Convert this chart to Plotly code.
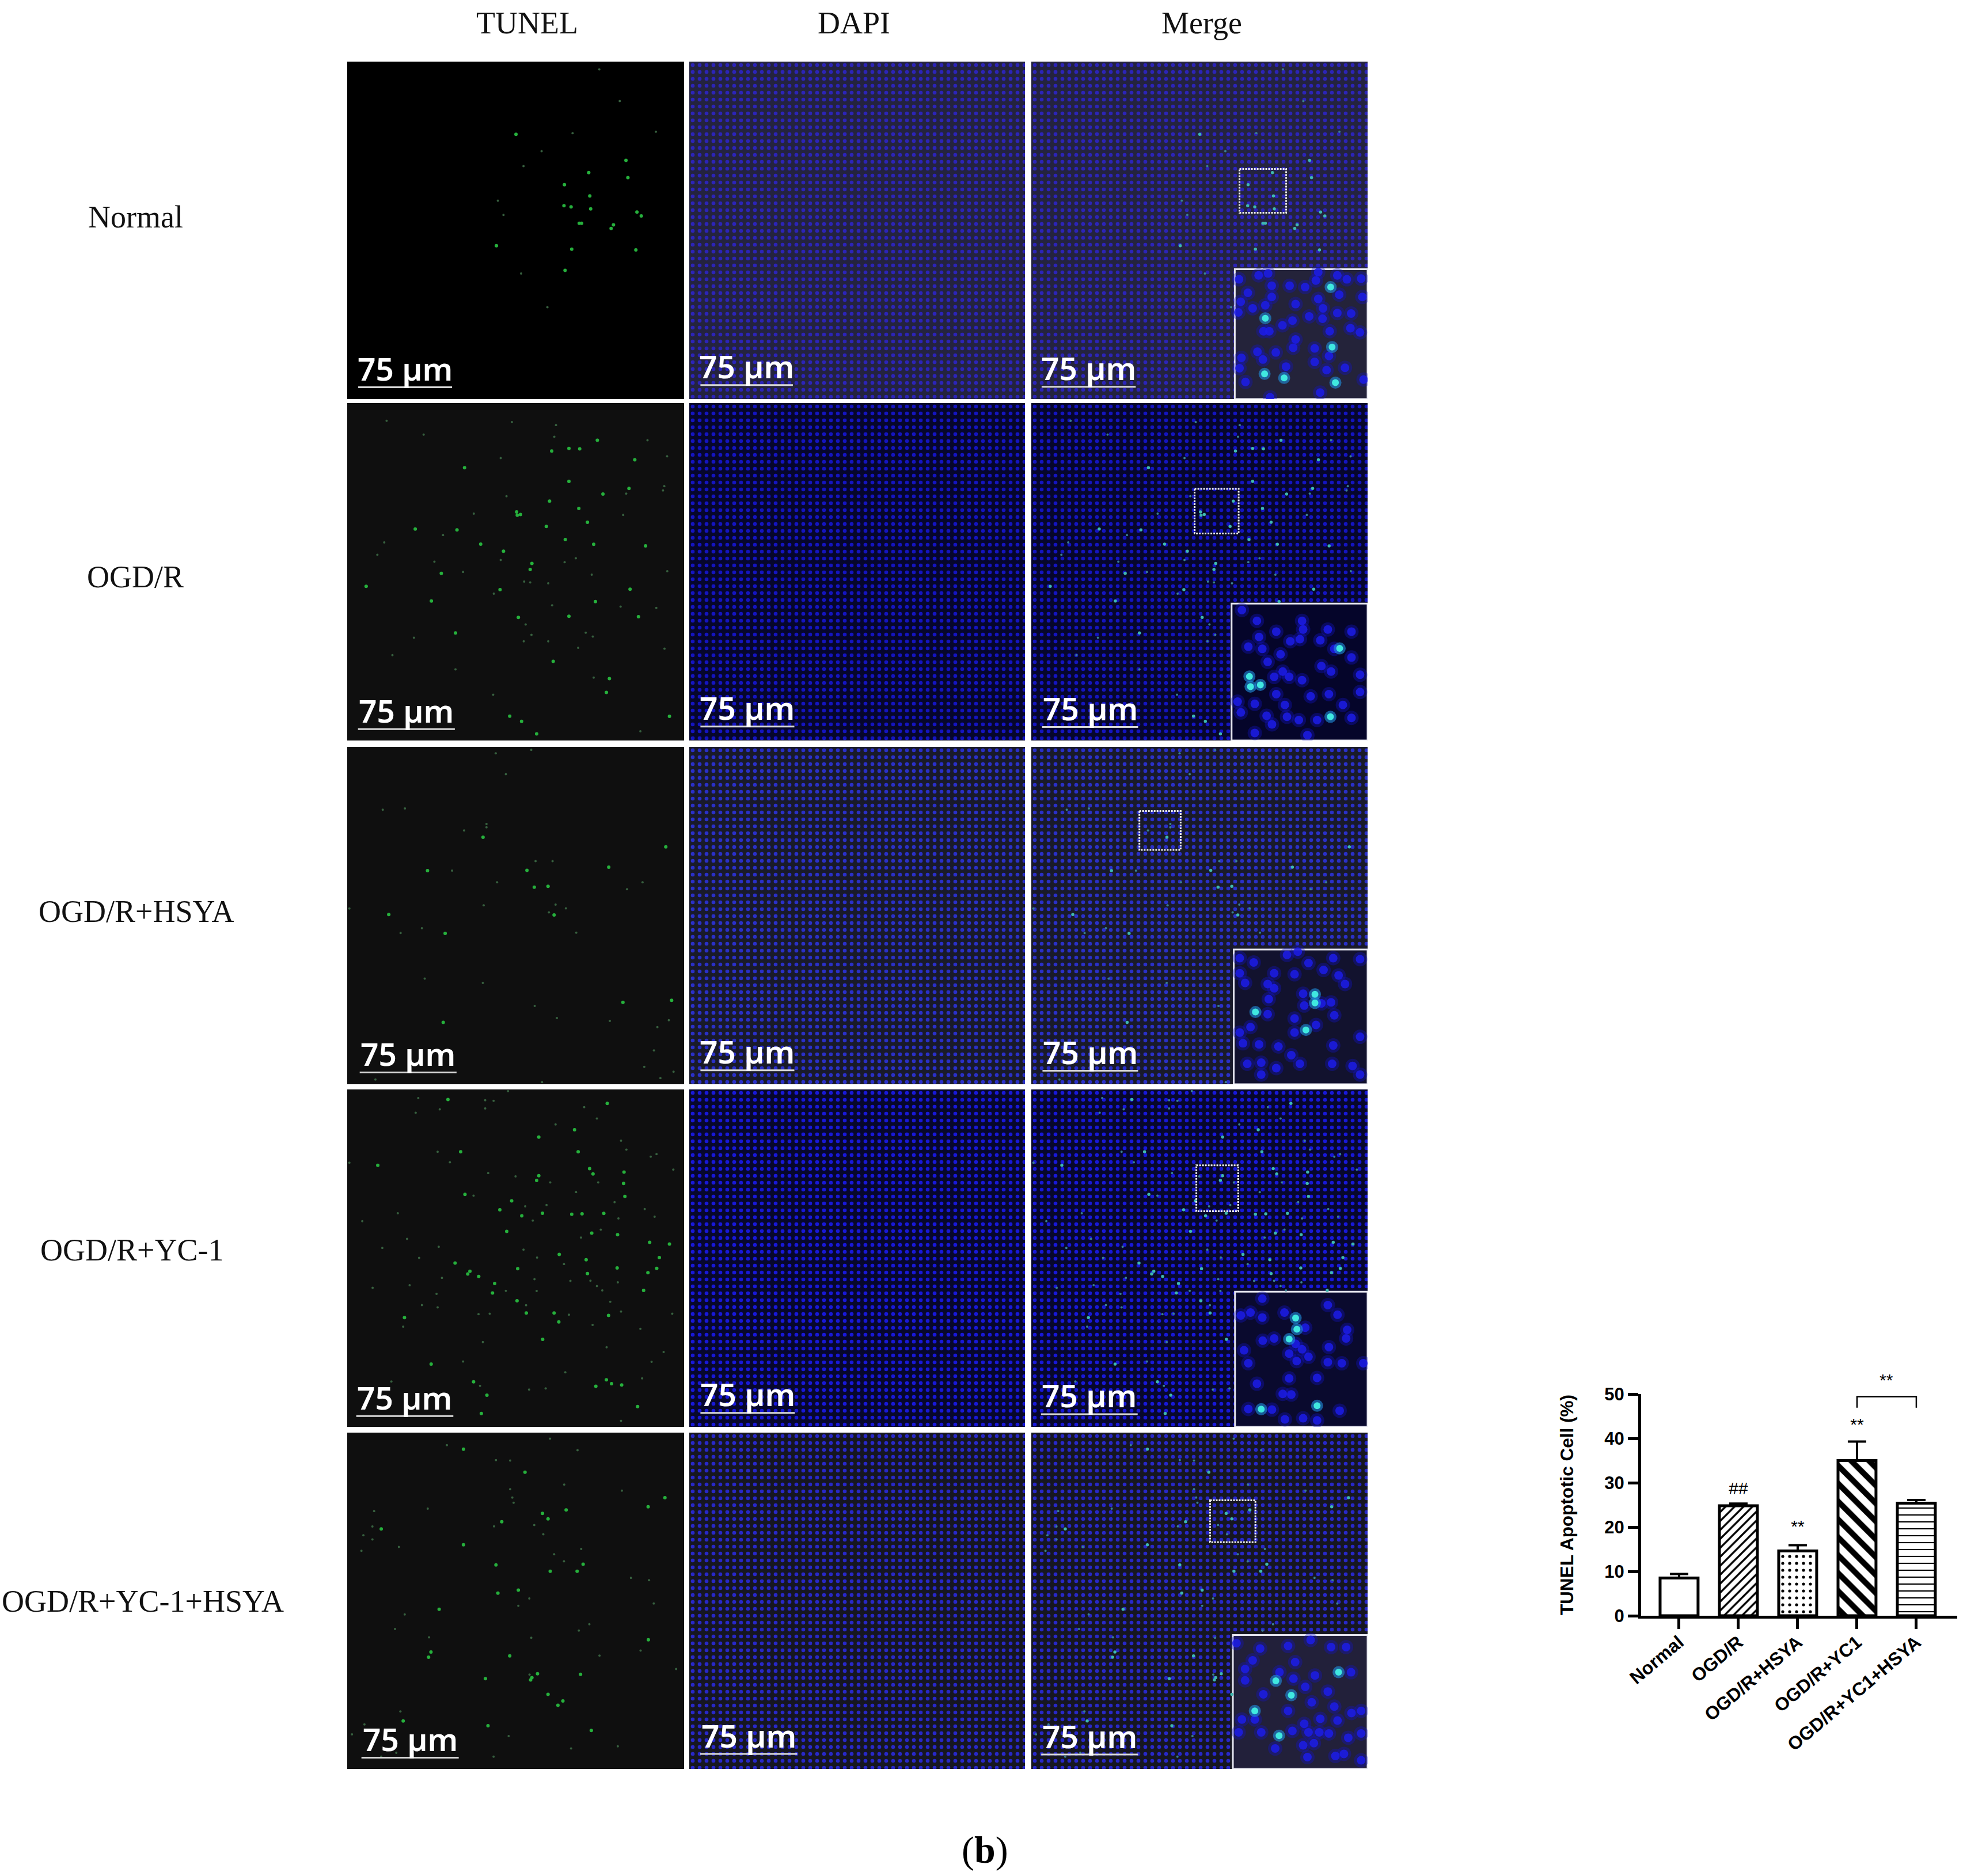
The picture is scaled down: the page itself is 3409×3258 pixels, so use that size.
import plotly.graph_objects as go

# bar chart values
groups = ["Normal", "OGD/R", "OGD/R+HSYA", "OGD/R+YC1", "OGD/R+YC1+HSYA"]
apoptotic = [8.5, 24.8, 14.6, 35.0, 25.4]
apoptotic_err = [0.9, 0.5, 1.3, 4.3, 0.7]
y_ticks = [0, 10, 20, 30, 40, 50]

row_labels = ["Normal", "OGD/R", "OGD/R+HSYA", "OGD/R+YC-1", "OGD/R+YC-1+HSYA"]
column_labels = ["TUNEL", "DAPI", "Merge"]

# TUNEL spots on a 0-1565 scale
normal_bright = [(1007,668),(1040,674),(1078,750),(1089,750),(1131,683),(1304,538),(1012,968),(693,854),(784,337),(1122,515),(1009,571),(1127,623),(1346,698),(1366,716),(1237,757),(1226,774),(1043,870),(1341,873),(1295,458)]
normal_dim = [(1171,36),(1266,183),(1434,325),(1047,332),(903,415),(819,485),(700,645),(726,711),(808,983),(930,1139)]
ogdr_bright = [(1030,210),(545,300),(316,584),(510,588),(787,505),(790,520),(805,517),(925,572),(1013,633),(1076,489),(620,654),(1145,655),(1386,662),(726,687),(858,744),(850,772),(437,790),(88,850),(710,865),(1314,863),(391,918),(1153,921),(795,994),(1030,989),(1353,991),(503,1066),(957,1198),(1218,1278),(1204,1342),(755,1452),(810,1476),(1497,1453),(880,1534),(1309,396),(1116,553),(950,222),(1080,212),(1336,263),(1188,422),(1030,363),(940,455),(1162,172)]
ogdr_dim = [(183,82),(765,88),(970,102),(355,146),(962,156),(1395,172),(713,255),(1486,247),(740,432),(1473,385),(1467,405),(1296,420),(588,513),(1282,519),(445,612),(172,646),(140,704),(713,728),(1062,720),(1010,738),(405,736),(538,783),(1136,796),(1487,780),(822,828),(850,832),(934,836),(681,884),(952,938),(1270,944),(1436,950),(829,1027),(856,1075),(1108,1065),(1141,1083),(820,1105),(934,1105),(1073,1135),(1474,1139),(310,1088),(210,1169),(503,1235),(1145,1273),(678,1353),(1362,1522)]
hsya_bright = [(631,419),(1480,464),(835,573),(1215,558),(869,651),(193,778),(961,780),(1281,1185),(1507,1176),(446,1278),(455,865),(933,647),(373,574)]
hsya_dim = [(855,14),(690,30),(737,127),(165,292),(268,286),(647,358),(647,373),(543,388),(875,530),(954,530),(487,574),(696,628),(1372,628),(1300,660),(634,735),(968,732),(1016,749),(10,750),(937,768),(347,841),(248,863),(1064,862),(360,1075),(630,1095),(871,1202),(974,1258),(1220,1271),(1494,1268),(1441,1300),(1425,1408),(1380,1484),(1516,1507),(131,1543),(1455,1536),(905,1555)]
yc1_bright = [(468,47),(1208,65),(890,221),(527,289),(142,352),(1073,289),(1056,187),(1126,367),(1142,392),(890,400),(880,422),(547,487),(764,517),(709,558),(811,586),(907,574),(1091,577),(1043,579),(741,658),(1256,674),(1497,717),(1405,709),(985,765),(1110,790),(1254,828),(501,805),(570,843),(560,856),(611,867),(792,831),(1116,854),(1438,830),(1397,850),(1377,932),(1450,780),(675,944),(789,980),(832,1037),(961,1037),(983,1078),(266,1058),(908,1159),(390,1274),(587,1356),(649,1418),(623,1503),(1155,1377),(1228,1365),(1275,1371),(1349,1471),(1204,1347),(1214,1048),(685,900),(1136,666),(1290,496),(1284,436),(1286,383),(1192,575)]
yc1_dim = [(330,40),(641,50),(680,53),(641,88),(430,92),(747,8),(318,108),(1101,82),(1160,135),(968,162),(1272,238),(1297,279),(420,289),(1410,312),(1437,300),(10,340),(477,338),(655,388),(782,403),(1515,372),(1166,431),(943,431),(1063,476),(587,493),(1242,523),(1382,555),(827,542),(926,536),(235,574),(70,611),(862,608),(1260,598),(1428,590),(1178,650),(1086,687),(278,693),(163,735),(425,730),(819,743),(334,781),(882,780),(1007,810),(440,874),(870,880),(1037,888),(1130,887),(1160,912),(1185,932),(1257,895),(118,920),(290,908),(737,934),(880,935),(415,948),(1222,985),(831,1001),(347,1000),(420,1011),(610,1042),(662,1040),(1030,1045),(1272,1030),(1510,1040),(1140,1092),(260,1100),(1362,1110),(630,1172),(1205,1196),(1470,1218),(538,1262),(1414,1263),(1013,1312),(1370,1340),(617,1375),(845,1392),(922,1387),(205,1355),(1272,1537)]
combo_bright = [(540,77),(826,184),(718,415),(158,448),(1398,345),(1476,303),(907,376),(933,401),(1017,360),(540,522),(691,616),(943,645),(1068,645),(1096,612),(700,747),(795,733),(427,822),(1399,964),(389,1021),(378,1045),(755,1039),(642,1145),(884,1122),(858,1140),(852,1151),(1084,1125),(933,1218),(1002,1249),(979,1269),(260,1342),(654,1364),(1134,1386)]
combo_dim = [(942,28),(463,58),(1070,82),(691,128),(757,130),(1008,242),(757,263),(1276,270),(767,302),(773,326),(374,354),(125,365),(117,437),(682,436),(869,430),(75,478),(117,497),(911,473),(240,532),(66,550),(1087,541),(961,566),(1007,599),(1318,676),(1402,687),(846,772),(795,806),(1424,795),(267,846),(222,914),(1125,892),(1076,921),(380,953),(855,955),(1363,1014),(1172,1038),(1528,1100),(847,1126),(247,1298),(80,1358),(22,1404),(750,1412),(228,1490),(158,1508),(1257,1460),(1040,1470),(680,1508)]

# nuclei in the enlarged insets of the Merge column
normal_inset_read = [(968,965),(1050,948),(1090,940),(1105,992),(1005,1022),(1180,992),(1245,998),(1290,970),(1300,935),(1380,948),(1420,965),(1480,962),(1388,1030),(1300,1048),(1105,1040),(1078,1075),(975,1060),(1025,1088),(965,1105),(1205,1070),(1320,1088),(1380,1108),(1438,1110),(1262,1122),(1318,1132),(1485,1040),(1192,1140),(1150,1160),(1070,1185),(1095,1185),(1348,1185),(1435,1172),(1475,1190),(1205,1220),(1195,1255),(1285,1258),(1045,1272),(1122,1275),(978,1298),(1068,1305),(1345,1290),(970,1342),(1165,1335),(1285,1315),(1335,1350),(1412,1340),(1490,1390),(995,1400),(1308,1445),(1098,1465)]
normal_inset_hot_read = [(1352,998),(1078,1130),(1358,1252),(1075,1366),(1157,1383),(1372,1403)]
ogdr_inset = [(980,960),(1050,1010),(1140,1060),(1265,1050),(1380,1050),(1490,1060),(1060,1085),(1010,1130),(1075,1140),(1160,1165),(1250,1095),(1205,1105),(1350,1220),(1395,1245),(1100,1200),(1130,1270),(1170,1245),(1200,1270),(1260,1285),(1530,1260),(1300,1360),(1140,1350),(1040,1395),(975,1435),(1095,1450),(1120,1490),(1040,1530),(1190,1455),(1330,1470),(1490,1460),(1285,1540),(1385,1350),(1450,1400),(1530,1340),(960,1385),(1260,1010),(1345,1100),(1410,1140),(1490,1180),(1180,1400),(1245,1470)]
ogdr_inset_hot = [(1435,1138),(1015,1268),(1020,1315),(1066,1307),(1392,1455)]
hsya_inset = [(970,980),(1035,1000),(1130,1050),(1225,1055),(1290,1003),(1360,1035),(1190,965),(1240,950),(1405,980),(1530,985),(970,1050),(995,1095),(1100,1100),(1130,1120),(1105,1170),(1265,1145),(1270,1200),(1350,1190),(1395,1185),(1460,1100),(1430,1060),(1100,1240),(1410,1245),(1020,1300),(970,1325),(985,1375),(1060,1380),(1150,1390),(1225,1260),(1225,1325),(1325,1290),(1405,1385),(1530,1345),(1210,1430),(1005,1470),(1070,1465),(1140,1490),(1250,1470),(1400,1470),(1070,1520),(1495,1480),(1530,1520)]
hsya_inset_hot = [(1320,1148),(1320,1188),(1043,1230),(1278,1313)]
yc1_inset = [(1075,970),(1020,1035),(975,1048),(1075,1058),(1178,1035),(1380,1000),(1425,1045),(1470,1115),(1465,1155),(1275,1105),(1130,1155),(1077,1165),(990,1210),(1010,1270),(1200,1225),(1230,1180),(1260,1205),(1290,1240),(1235,1260),(1380,1265),(1445,1270),(1385,1195),(1200,1340),(1330,1338),(1050,1365),(1170,1412),(1210,1415),(1010,1482),(1120,1485),(1435,1490),(1180,1530),(1265,1525),(1330,1535),(1545,1270)]
yc1_inset_hot = [(1230,1060),(1236,1112),(1200,1158),(1070,1483),(1330,1467)]
combo_inset = [(955,980),(1065,1005),(1195,993),(1300,965),(1395,998),(1465,998),(1030,1060),(1228,1068),(995,1100),(995,1153),(1155,1115),(1220,1145),(1320,1130),(1488,1115),(1275,1183),(1380,1205),(1080,1218),(1305,1255),(1195,1295),(1410,1275),(1490,1305),(1535,1295),(980,1335),(1040,1335),(1070,1395),(1345,1332),(1425,1340),(1270,1355),(1215,1388),(1290,1395),(1340,1395),(1385,1400),(965,1395),(1535,1400),(1475,1420),(1265,1455),(1315,1445),(1135,1470),(1285,1510),(1415,1505),(1455,1495),(1535,1525)]
combo_inset_hot = [(1138,1155),(1430,1115),(1210,1222),(1040,1295),(1153,1410)]

normal_inset = [((x - 97) * 1.11, (y - 42) * 1.094) for x, y in normal_inset_read]
normal_inset_hot = [((x - 97) * 1.11, (y - 42) * 1.094) for x, y in normal_inset_hot_read]

bright_spots = [normal_bright, ogdr_bright, hsya_bright, yc1_bright, combo_bright]
dim_spots = [normal_dim, ogdr_dim, hsya_dim, yc1_dim, combo_dim]
inset_cells = [normal_inset, ogdr_inset, hsya_inset, yc1_inset, combo_inset]
inset_hot = [normal_inset_hot, ogdr_inset_hot, hsya_inset_hot, yc1_inset_hot, combo_inset_hot]

# layout in page pixels
W, H = 3409, 3258
col_left = [603, 1197, 1791]
col_width = [585, 583, 584]
row_top = [107, 700, 1297, 1892, 2488]
row_height = [586, 586, 586, 586, 584]
EXT = 1565

inset_left = [947, 932, 942, 948, 938]
inset_top = [963, 930, 940, 938, 942]
box_x0 = [969, 760, 503, 768, 832]
box_x1 = [1186, 965, 695, 963, 1043]
box_y0 = [498, 398, 298, 352, 315]
box_y1 = [701, 605, 478, 565, 510]

bar_x0 = [[51, 50, 58, 42, 66], [52, 52, 52, 52, 51], [48, 50, 52, 45, 46]]
bar_x1 = [[487, 500, 508, 493, 518], [483, 490, 490, 492, 503], [486, 497, 497, 495, 497]]
bar_y = [[1510, 1512, 1510, 1515, 1513], [1500, 1500, 1500, 1500, 1495], [1508, 1502, 1502, 1506, 1498]]

tunel_bg = ["#000000", "#0f0f0f", "#0f0f0f", "#0f0f0f", "#0f0f0f"]
dapi_bg = ["#24233f", "#06062c", "#191a2a", "#07072c", "#161621"]
dapi_dot = ["#2c24b8", "#1414c0", "#2a30c8", "#1818d8", "#2828c8"]
inset_bg = ["#24233a", "#05052a", "#12122e", "#0a0a2e", "#22203a"]

fig = go.Figure()
shapes, notes = [], []
axis_n = 0


def panel_axes(col, row):
    # one pair of hidden axes per micrograph
    global axis_n
    axis_n += 1
    x0, x1 = col_left[col], col_left[col] + col_width[col]
    y0, y1 = row_top[row], row_top[row] + row_height[row]
    off = dict(visible=False, showgrid=False, zeroline=False, fixedrange=True, automargin=False)
    fig.update_layout(**{
        f"xaxis{axis_n}": dict(off, domain=[x0 / W, x1 / W], range=[0, EXT], anchor=f"y{axis_n}"),
        f"yaxis{axis_n}": dict(off, domain=[1 - y1 / H, 1 - y0 / H], range=[EXT, 0], anchor=f"x{axis_n}"),
    })
    return f"x{axis_n}", f"y{axis_n}"


def dots(pts, xa, ya, size, color, opacity=1.0):
    fig.add_trace(go.Scatter(x=[p[0] for p in pts], y=[p[1] for p in pts], mode="markers", xaxis=xa, yaxis=ya,
                             marker=dict(size=size, color=color, opacity=opacity, line_width=0),
                             showlegend=False, hoverinfo="skip"))


for row in range(5):
    for col in range(3):
        xa, ya = panel_axes(col, row)
        if col == 0:
            pattern = dict(shape="")
            fill = tunel_bg[row]
        else:
            pattern = dict(shape=".", bgcolor=dapi_bg[row], fgcolor=dapi_dot[row], fgopacity=1, size=12, solidity=0.24)
            fill = dapi_bg[row]
        fig.add_trace(go.Bar(x=[EXT / 2], y=[EXT], width=[EXT], base=[0], xaxis=xa, yaxis=ya,
                             marker=dict(color=fill, line_width=0, pattern=pattern),
                             showlegend=False, hoverinfo="skip"))
        if col == 0:
            dots(dim_spots[row], xa, ya, 4, "#37603f")
            dots(bright_spots[row], xa, ya, 6, "#26b03c")
        if col == 2:
            il, it = inset_left[row], inset_top[row]
            keep = lambda p: not (p[0] > il and p[1] > it)
            dots([p for p in dim_spots[row] if keep(p)], xa, ya, 4, "#3a8090")
            dots([p for p in bright_spots[row] if keep(p)], xa, ya, 5.5, "#3fb8b0")
            fig.add_trace(go.Bar(x=[(il + EXT) / 2], y=[EXT - it], width=[EXT - il], base=[it], xaxis=xa, yaxis=ya,
                                 marker=dict(color=inset_bg[row], line=dict(color="#e4e4ee", width=3)),
                                 showlegend=False, hoverinfo="skip"))
            dots(inset_cells[row], xa, ya, 25, "#1414c8", 0.35)
            dots(inset_cells[row], xa, ya, 15, "#1c1ce8", 0.85)
            dots(inset_hot[row], xa, ya, 21, "#2090e0", 0.6)
            dots(inset_hot[row], xa, ya, 12, "#40e8e0")
            shapes.append(dict(type="rect", xref=xa, yref=ya, x0=box_x0[row], x1=box_x1[row], y0=box_y0[row], y1=box_y1[row],
                               line=dict(color="#f0f0f0", width=3, dash="3px,2px")))
        # scale bar and its label
        bx0, bx1, by = bar_x0[col][row], bar_x1[col][row], bar_y[col][row]
        shapes.append(dict(type="line", xref=xa, yref=ya, x0=bx0, x1=bx1, y0=by, y1=by, line=dict(color="#d8d8d8", width=3)))
        notes.append(dict(text="75 µm", xref=xa, yref=ya, x=(bx0 + bx1) / 2, y=by - 88, showarrow=False,
                          xanchor="center", yanchor="middle",
                          font=dict(family="Noto Sans", size=55, color="white", weight=600)))

# bar chart
bar_patterns = ["", "/", ".", "\\", "-"]
bar_sizes = [10, 11, 12, 22, 12]
bar_solid = [0.2, 0.3, 0.15, 0.45, 0.18]
fig.add_trace(go.Bar(x=list(range(5)), y=apoptotic, width=0.64,
                     error_y=dict(type="data", array=apoptotic_err, symmetric=False, color="black", thickness=4, width=16),
                     marker=dict(color="white", line=dict(color="black", width=5),
                                 pattern=dict(shape=bar_patterns, size=bar_sizes, solidity=bar_solid, fgcolor="black", bgcolor="white", fgopacity=1)),
                     showlegend=False, xaxis="x99", yaxis="y99"))
fig.add_trace(go.Scatter(x=[3, 3, 4, 4], y=[46.9, 49.4, 49.4, 46.9], mode="lines", line=dict(color="black", width=2.5),
                         showlegend=False, xaxis="x99", yaxis="y99", cliponaxis=False))
mark_x = [1, 2, 3]
mark_y = [28.4, 19.8, 42.8]
mark_text = ["##", "**", "**"]
fig.add_trace(go.Scatter(x=mark_x, y=mark_y, text=mark_text, mode="text", textposition="middle center", cliponaxis=False,
                         textfont=dict(family="Liberation Sans", size=30, color="black"),
                         showlegend=False, xaxis="x99", yaxis="y99"))
# the bracket's stars sit above the top of the y axis
notes.append(dict(text="**", xref="x99", yref="paper", x=3.5, y=1 - 2396 / H, showarrow=False,
                  xanchor="center", yanchor="middle", font=dict(family="Liberation Sans", size=30, color="black")))

ax_line = dict(showline=True, linecolor="black", linewidth=5, ticks="outside", ticklen=18, tickwidth=5,
               tickcolor="black", showgrid=False, zeroline=False, fixedrange=True, automargin=False)
fig.update_layout(
    xaxis99=dict(ax_line, domain=[2850 / W, 3399 / W], range=[-0.64, 4.69], tickvals=list(range(5)), ticktext=groups,
                 tickangle=-40, tickfont=dict(family="Liberation Sans", size=32, color="black", weight="bold"),
                 ticklabelstandoff=-8, anchor="y99"),
    yaxis99=dict(ax_line, domain=[1 - 2806 / H, 1 - 2421 / H], range=[0, 50], tickvals=y_ticks,
                 tickfont=dict(family="Liberation Sans", size=31, color="black", weight="bold"), anchor="x99",
                 title=dict(text="TUNEL Apoptotic Cell (%)", font=dict(family="Liberation Sans", size=31.5, color="black", weight="bold"), standoff=46)),
)

# text around the micrographs
serif = dict(family="Liberation Serif", size=54, color="#111111")
for label, px in zip(column_labels, [915, 1483, 2087]):
    notes.append(dict(text=label, xref="paper", yref="paper", x=px / W, y=1 - 40 / H, showarrow=False,
                      xanchor="center", yanchor="middle", font=serif))
for label, px, py in zip(row_labels, [235, 235, 237, 229, 248], [377, 1002, 1583, 2171, 2781]):
    notes.append(dict(text=label, xref="paper", yref="paper", x=px / W, y=1 - py / H, showarrow=False,
                      xanchor="center", yanchor="middle", font=serif))
notes.append(dict(text="(<b>b</b>)", xref="paper", yref="paper", x=1710 / W, y=1 - 3213 / H, showarrow=False,
                  xanchor="center", yanchor="middle", font=dict(family="Liberation Serif", size=66, color="black")))

fig.update_layout(width=W, height=H, margin=dict(l=0, r=0, t=0, b=0), autosize=False, barmode="overlay",
                  paper_bgcolor="white", plot_bgcolor="rgba(0,0,0,0)", shapes=shapes, annotations=notes, showlegend=False)
fig.write_html("out.html", config={"displayModeBar": False}, post_script="document.body.style.margin='0';")
